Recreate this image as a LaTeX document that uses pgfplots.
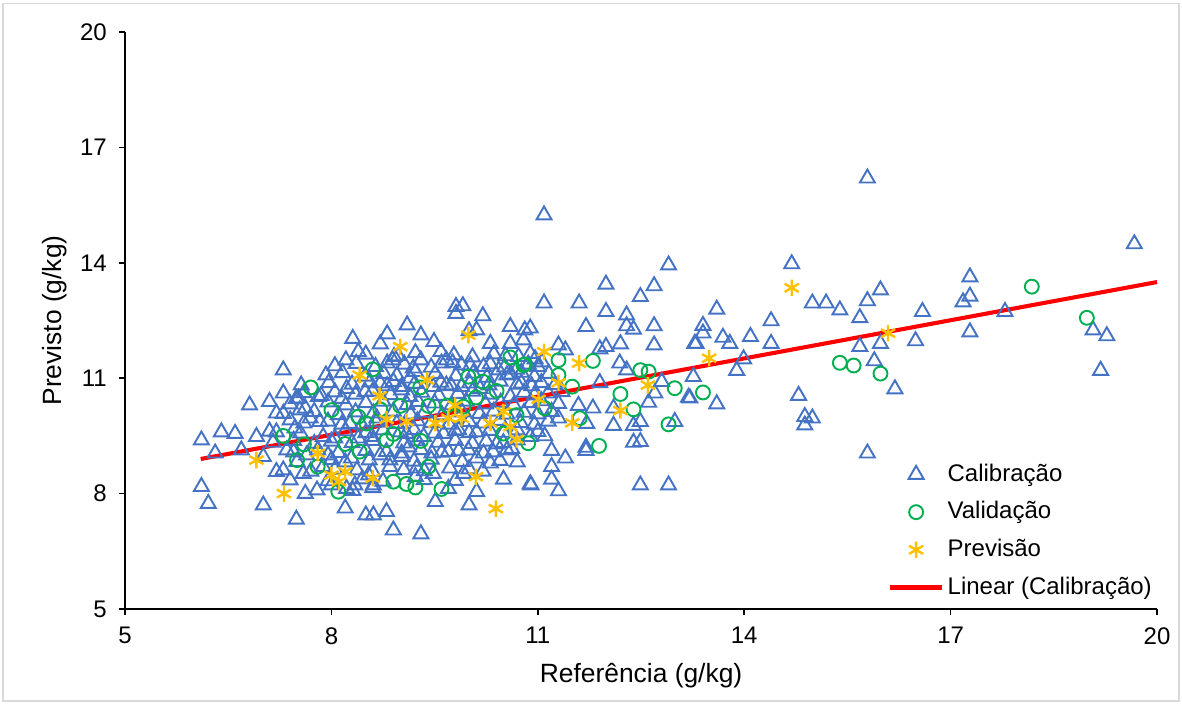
\documentclass[border=0pt]{standalone}
\usepackage{pgfplots}
\pgfplotsset{compat=1.18}
\usepackage{pgfplotstable}
\usepackage{fontspec}
\setmainfont{Liberation Sans}
\definecolor{cblue}{HTML}{4472C4}
\definecolor{cgreen}{HTML}{00B050}
\definecolor{cyel}{HTML}{FFC000}
\definecolor{cred}{HTML}{FF0000}
\pgfplotsset{
  marklegend/.style={legend image code/.code={\draw[##1] plot coordinates {(10.8pt,0pt)};}},
  linelegend/.style={legend image code/.code={\draw[##1] (0pt,0pt) -- (21.6pt,0pt);}},
}

\pgfplotstableread{
x y
19.67 14.49
15.79 16.20
19.07 12.25
19.27 12.10
19.18 11.20
17.28 13.63
17.28 13.13
17.18 12.98
17.28 12.20
17.79 12.73
15.79 9.05
15.98 13.29
15.79 13.01
15.68 12.57
16.59 12.73
16.49 11.97
15.68 11.82
15.98 11.90
15.89 11.45
16.19 10.72
14.69 13.97
14.99 12.95
15.19 12.95
15.39 12.77
14.79 10.55
14.88 10.00
14.99 9.96
14.88 9.78
14.39 12.49
14.39 11.90
14.09 12.08
13.79 11.90
13.69 12.06
13.99 11.50
13.89 11.20
13.60 12.79
13.40 12.37
13.40 12.17
13.30 11.90
13.60 10.33
13.26 11.04
13.21 10.48
11.09 15.24
12.90 13.94
11.99 13.44
12.69 13.40
12.49 13.12
11.09 12.95
11.60 12.95
11.99 12.73
12.29 12.64
12.29 12.36
12.39 12.27
11.70 12.34
12.69 12.36
10.89 12.30
13.28 11.90
12.69 11.86
12.20 11.89
11.99 11.82
11.90 11.76
11.30 11.86
11.40 11.73
10.79 11.99
12.19 11.39
12.29 11.21
11.90 10.88
12.80 10.91
13.19 10.50
12.70 10.61
12.61 10.37
12.10 10.22
11.80 10.22
11.59 10.29
11.30 9.96
11.71 9.82
12.10 9.77
12.39 9.77
12.49 9.87
12.99 9.87
12.39 9.33
12.49 9.35
11.70 9.20
11.70 9.12
11.40 8.92
11.20 8.70
11.20 8.37
11.30 8.07
10.89 8.25
12.49 8.22
12.90 8.22
11.10 9.50
11.20 9.12
9.81 12.86
9.91 12.88
9.81 12.68
10.20 12.62
10.60 12.34
9.10 12.38
8.81 12.15
8.71 11.89
9.30 12.12
9.49 11.95
8.31 12.03
8.39 11.69
9.59 11.69
10.31 11.90
10.11 12.25
10.81 12.25
10.00 12.23
10.60 11.90
9.30 11.47
8.89 11.47
9.60 11.39
9.89 11.34
10.21 11.30
10.43 11.21
10.69 11.23
10.72 11.56
10.89 11.64
11.00 11.30
9.67 11.47
8.21 11.47
8.91 11.56
8.81 11.39
9.19 11.26
7.30 11.21
7.30 10.61
6.81 10.30
7.10 10.39
7.20 10.09
7.49 10.47
7.62 10.22
6.40 9.60
6.60 9.56
6.11 9.39
6.91 9.48
7.20 9.60
6.69 9.13
6.31 9.05
7.01 8.96
6.11 8.18
6.21 7.74
7.01 7.70
7.49 7.33
7.20 8.57
7.40 8.35
8.20 7.62
7.62 8.00
7.79 8.09
8.50 7.44
8.61 7.44
8.80 7.53
8.90 7.05
9.30 6.95
9.51 7.79
10.00 7.70
10.11 8.05
10.90 8.22
9.70 8.13
8.31 8.08
8.60 8.15
7.52 10.48
7.81 10.52
8.22 10.73
8.49 10.65
8.71 10.87
8.90 10.91
9.02 10.69
8.15 10.47
7.40 9.91
7.54 10.17
7.69 9.96
7.83 9.87
7.47 9.70
8.27 9.82
8.44 9.78
8.66 9.96
7.88 9.48
8.05 9.44
8.39 9.44
8.59 9.48
7.35 9.13
7.64 9.00
7.95 9.00
8.29 8.92
8.71 9.00
8.85 8.87
9.02 9.05
7.30 8.61
7.59 8.52
7.88 8.70
8.37 8.61
8.54 8.48
8.85 8.70
8.22 8.13
8.34 8.22
8.61 8.22
8.00 8.22
9.22 11.17
9.67 10.82
9.02 10.78
9.14 10.52
9.48 10.78
9.89 10.78
10.16 10.73
10.55 11.08
10.76 10.87
10.60 10.52
9.09 9.56
9.34 9.48
9.63 9.56
9.85 9.65
10.11 9.60
10.40 9.29
10.62 9.17
9.12 9.21
9.46 9.05
9.70 9.09
9.99 9.13
10.21 9.05
9.02 8.96
9.24 8.66
9.48 8.52
9.72 8.66
9.92 8.52
10.11 8.92
9.22 8.44
10.89 9.48
10.31 8.79
8.50 11.62
8.97 11.58
9.22 11.66
9.78 11.60
10.05 11.55
10.36 11.63
10.53 11.58
10.96 11.50
8.05 11.32
8.36 11.38
8.64 11.30
9.06 11.36
9.45 11.28
9.76 11.40
10.02 11.33
10.31 11.37
10.52 11.29
10.86 11.36
11.06 11.42
7.92 11.08
8.16 11.14
8.49 11.05
8.76 11.12
8.95 11.07
9.14 11.00
9.51 11.12
9.81 11.06
10.06 11.13
10.26 11.02
10.61 11.10
10.76 11.15
10.95 11.04
11.16 11.12
7.56 10.82
7.96 10.88
8.30 10.84
8.56 10.90
8.81 10.80
9.21 10.86
9.59 10.89
9.74 10.80
10.01 10.87
10.29 10.82
10.45 10.92
10.70 10.84
10.91 10.80
11.05 10.88
11.25 10.83
7.60 10.62
7.85 10.55
8.05 10.64
8.35 10.58
8.60 10.66
8.86 10.57
9.31 10.63
9.56 10.55
9.84 10.60
10.05 10.66
10.31 10.58
10.80 10.63
10.95 10.56
11.15 10.61
11.35 10.65
7.40 10.33
7.95 10.38
8.21 10.30
8.50 10.36
8.75 10.40
9.10 10.31
9.26 10.39
9.50 10.35
9.75 10.30
9.96 10.40
10.24 10.33
10.46 10.37
10.65 10.30
10.90 10.36
11.05 10.41
11.30 10.34
7.30 10.08
7.75 10.13
8.10 10.05
8.35 10.12
8.61 10.09
8.90 10.14
9.15 10.06
9.35 10.11
9.61 10.04
9.90 10.12
10.15 10.08
10.36 10.14
10.55 10.06
10.80 10.11
11.00 10.07
11.20 10.13
7.60 9.83
7.95 9.88
8.15 9.80
8.65 9.86
8.95 9.82
9.25 9.89
9.45 9.84
9.71 9.80
10.00 9.87
10.20 9.83
10.45 9.90
10.75 9.84
10.95 9.80
11.15 9.88
7.10 9.62
7.55 9.57
8.20 9.63
8.50 9.58
8.75 9.65
9.00 9.60
9.20 9.66
9.50 9.57
9.80 9.63
10.00 9.58
10.30 9.64
10.50 9.59
10.70 9.65
11.00 9.61
7.15 9.33
7.45 9.38
7.75 9.30
8.00 9.36
8.30 9.32
8.60 9.38
9.05 9.31
9.25 9.37
9.55 9.33
9.80 9.38
10.05 9.30
10.25 9.36
10.50 9.32
10.70 9.39
7.45 9.08
7.80 9.13
8.10 9.06
8.50 9.12
8.80 9.09
9.30 9.14
9.60 9.07
9.85 9.11
10.35 9.08
10.55 9.13
7.50 8.83
8.00 8.88
8.20 8.82
8.55 8.87
9.20 8.84
9.45 8.89
9.90 8.83
10.45 8.86
10.70 8.82
7.70 8.58
8.05 8.63
8.60 8.57
9.05 8.62
9.35 8.59
10.00 8.64
10.20 8.58
7.95 8.33
8.45 8.38
8.75 8.32
9.35 8.36
9.80 8.34
10.50 8.37
}\calib

\pgfplotstableread{
x y
7.70 10.76
8.00 10.17
7.30 9.50
7.60 9.28
7.50 8.87
7.80 8.70
8.20 9.29
8.10 8.05
8.39 10.00
8.60 11.23
8.71 10.19
9.00 10.28
9.29 10.76
9.41 10.28
9.68 10.29
9.92 10.26
9.99 11.04
10.20 10.91
10.40 10.67
10.10 10.50
10.60 11.54
10.79 11.34
10.69 10.04
10.50 9.56
10.86 9.31
8.80 9.39
8.90 9.55
9.30 9.37
8.41 9.09
9.41 8.70
8.90 8.31
9.09 8.25
9.22 8.16
9.60 8.12
8.51 9.82
10.81 11.36
11.30 11.47
11.80 11.45
11.30 11.08
11.50 10.78
12.20 10.59
12.49 11.21
12.61 11.17
12.99 10.74
12.39 10.19
12.90 9.80
11.10 10.22
11.61 9.96
11.89 9.24
13.40 10.63
15.39 11.40
15.59 11.33
15.98 11.12
18.18 13.38
18.98 12.57
}\valid

\pgfplotstableread{
x y
6.91 8.87
7.31 8.00
7.80 9.05
8.00 8.48
8.11 8.31
8.20 8.57
8.41 11.08
8.60 8.40
8.70 10.54
8.80 9.93
9.00 11.82
9.09 9.87
9.39 10.95
9.51 9.83
9.70 9.96
9.80 10.29
9.89 9.96
9.99 12.12
10.10 8.44
10.31 9.83
10.39 7.61
10.50 10.13
10.60 9.74
10.69 9.41
11.01 10.45
11.09 11.69
11.30 10.88
11.50 9.84
11.60 11.39
12.20 10.16
12.60 10.82
13.49 11.52
14.69 13.35
16.09 12.17
}\prev

\begin{document}
\begin{tikzpicture}[x=1pt,y=1pt]
\path[use as bounding box] (-52.1,-39.6) rectangle (440.4,253.75);
\draw[black!15, line width=0.6pt] (-50.8,-38.3) rectangle (439.1,252.4);
\begin{axis}[
  at={(0,0)}, anchor=south west, scale only axis,
  width=430pt, height=240.4pt,
  xmin=5, xmax=20, ymin=5, ymax=20,
  xtick={5,8,11,14,17,20}, ytick={5,8,11,14,17,20},
  axis x line*=bottom, axis y line*=left,
  axis line style={black, line width=0.7pt, -},
  tick style={black, line width=0.7pt},
  tick align=outside, major tick length=2.6pt,
  /pgf/number format/assume math mode=true,
  tick label style={font=\fontsize{10}{12}\selectfont},
  xticklabel style={yshift=-1.5pt},
  yticklabel style={xshift=-1.5pt},
  xlabel={Referência (g/kg)},
  ylabel={Previsto (g/kg)},
  every axis x label/.style={at={(axis description cs:0.5,-0.116)}, anchor=center, font=\fontsize{11}{13}\selectfont},
  every axis y label/.style={at={(axis description cs:-0.068,0.5)}, anchor=center, rotate=90, font=\fontsize{11}{13}\selectfont},
  clip=false,
  legend style={at={(1,0)}, anchor=south east, xshift=-0.5pt, yshift=2pt,
    draw=none, fill=none, inner sep=0pt,
    font=\fontsize{10}{12}\selectfont,
    nodes={inner sep=1.5pt, text height=8pt, text depth=2.5pt},
    row sep=2.2pt},
  legend cell align=left,
]
\addplot[only marks, mark=triangle, mark size=3.6pt, color=cblue, line width=0.8pt, forget plot] table[x=x,y=y]{\calib};
\addplot[cred, line width=1.7pt, forget plot] coordinates {(6.1,8.9) (20,13.5)};
\addplot[only marks, mark=o, mark size=2.9pt, color=cgreen, line width=0.8pt, forget plot] table[x=x,y=y]{\valid};
\addplot[only marks, mark=asterisk, mark size=3.4pt, color=cyel, line width=1pt, forget plot] table[x=x,y=y]{\prev};

\addlegendimage{only marks, mark=triangle, mark size=3.6pt, color=cblue, line width=0.8pt, marklegend}
\addlegendentry{Calibração}
\addlegendimage{only marks, mark=o, mark size=2.9pt, color=cgreen, line width=0.8pt, marklegend}
\addlegendentry{Validação}
\addlegendimage{only marks, mark=asterisk, mark size=3.4pt, color=cyel, line width=1pt, marklegend}
\addlegendentry{Previsão}
\addlegendimage{cred, line width=1.7pt, linelegend}
\addlegendentry{Linear (Calibração)}
\end{axis}
\end{tikzpicture}
\end{document}
